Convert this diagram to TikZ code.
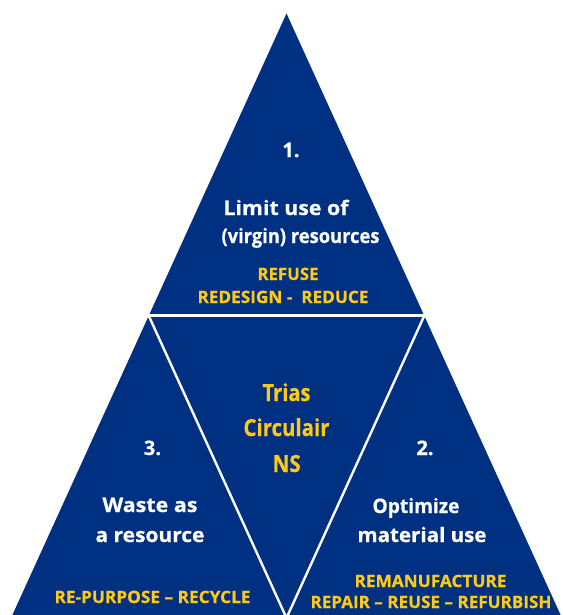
\documentclass[tikz,border=0pt]{standalone}
\usepackage{fontspec}
\usepackage{graphicx}
\setmainfont{Open Sans}[BoldFeatures={FakeBold=0.5}]
\usetikzlibrary{calc}
\definecolor{nsblue}{RGB}{0,48,130}
\definecolor{nsyellow}{RGB}{255,201,23}
% text squeezed to the reference width (pt), natural height kept
\newcommand\fitw[2]{\resizebox{#1pt}{\height}{#2}}
\begin{document}
\begin{tikzpicture}[x=1pt,y=-1pt]
\tikzset{
  lbl/.style={inner sep=0pt, anchor=base, font=\bfseries\fontsize{#1}{#1}\selectfont},
  wtxt/.style={lbl=20, text=white},
  ytxt/.style={lbl=17, text=nsyellow},
  ltxt/.style={lbl=23.5, text=nsyellow},
  sepline/.style={white, line width=#1},
}
\useasboundingbox (0,0) rectangle (562,615);
\coordinate (A) at (286.5,13.5);
\coordinate (B) at (11,618);
\coordinate (C) at (562,618);
\fill[nsblue] (A) -- (B) -- (C) -- cycle;
\coordinate (mL) at ($(A)!0.5!(B)$);
\coordinate (mR) at ($(A)!0.5!(C)$);
\coordinate (mB) at ($(B)!0.5!(C)$);
\coordinate (hL) at ($(mL)+(-6,0)$);
\coordinate (hR) at ($(mR)+(6,0)$);
\draw[sepline=3pt] (hL) -- (hR);
\draw[sepline=2.4pt] (mL) -- (mB) (mR) -- (mB);
% top triangle
\node[wtxt] (n1) at (291,157) {1.};
\node[wtxt] (t1a) at (286,215) {\fitw{125}{Limit use of}};
\node[wtxt] (t1b) at (300.5,243) {\fitw{158}{(virgin) resources}};
\node[ytxt] (y1a) at (288,280) {\fitw{61}{REFUSE}};
\node[ytxt] (y1b) at (283,303) {\fitw{171}{REDESIGN -\ \ REDUCE}};
% centre
\node[ltxt] (c1) at (286.5,401) {\fitw{48}{Trias}};
\node[ltxt] (c2) at (286.5,436) {\fitw{86}{Circulair}};
\node[ltxt] (c3) at (286.7,472) {\fitw{28}{NS}};
% left
\node[wtxt] (n3) at (152.5,455) {3.};
\node[wtxt] (t3a) at (150,512) {\fitw{95}{Waste as}};
\node[wtxt] (t3b) at (150,542) {\fitw{109}{a resource}};
\node[ytxt] (y3) at (152.5,603) {\fitw{196}{RE-PURPOSE – RECYCLE}};
% right
\node[wtxt] (n2) at (425,455) {2.};
\node[wtxt] (t2a) at (416,513) {\fitw{87}{Optimize}};
\node[wtxt] (t2b) at (422,542) {\fitw{129}{material use}};
\node[ytxt] (y2a) at (430.5,587) {\fitw{152}{REMANUFACTURE}};
\node[ytxt] (y2b) at (431,608) {\fitw{241}{REPAIR – REUSE – REFURBISH}};
\end{tikzpicture}
\end{document}
